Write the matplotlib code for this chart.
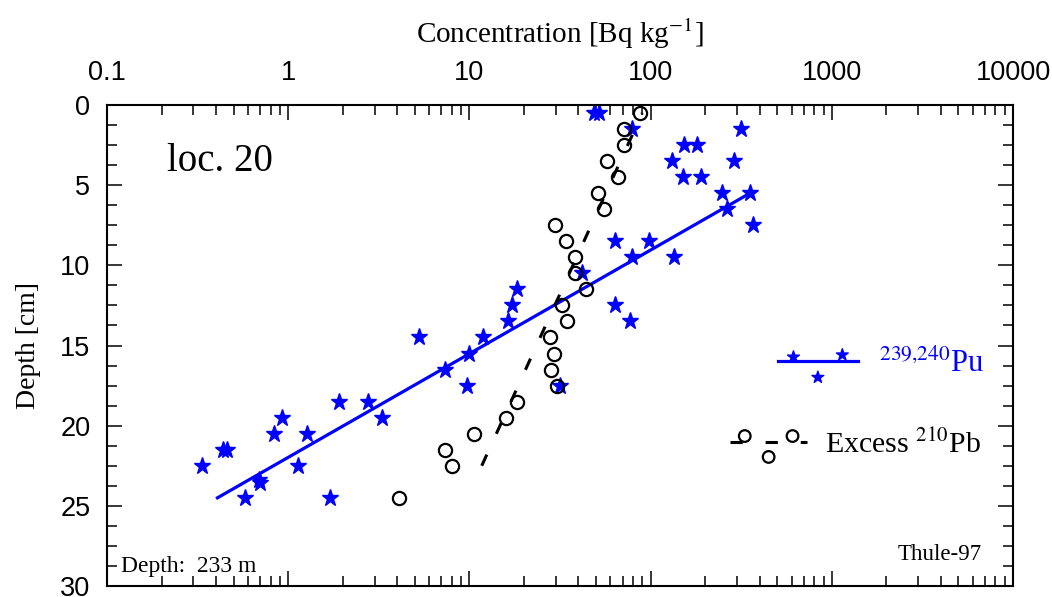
import matplotlib
matplotlib.use("Agg")
import matplotlib.pyplot as plt
from matplotlib.collections import PathCollection
from matplotlib.legend_handler import HandlerPathCollection
from matplotlib.ticker import FuncFormatter, LogLocator, MultipleLocator, NullFormatter

plt.rcParams["font.family"] = ["Liberation Serif", "DejaVu Serif"]
plt.rcParams["mathtext.fontset"] = "stix"

# 239,240Pu profile (depth in cm, concentration in Bq/kg)
pu_depth = [0.5, 0.5, 1.5, 1.5, 2.5, 2.5, 3.5, 3.5, 4.5, 4.5, 5.5, 5.5, 6.5, 7.5,
            8.5, 8.5, 9.5, 9.5, 10.5, 11.5, 12.5, 12.5, 13.5, 13.5, 14.5, 14.5,
            15.5, 16.5, 17.5, 17.5, 18.5, 18.5, 19.5, 19.5, 20.5, 20.5, 21.5, 21.5,
            22.5, 22.5, 23.4, 23.55, 24.5, 24.5]
pu_conc = [49, 52, 79, 316, 152, 180, 131, 290, 151, 189, 248, 354, 263, 369,
           64, 98, 79, 135, 41.7, 18.2, 17.1, 63.4, 16.4, 76.9, 5.27, 11.9,
           10.0, 7.33, 9.67, 31.6, 1.91, 2.77, 0.93, 3.28, 0.83, 1.27, 0.435, 0.457,
           0.336, 1.13, 0.69, 0.70, 0.58, 1.70]

# excess 210Pb profile
pb_depth = [0.5, 1.5, 2.5, 3.5, 4.5, 5.5, 6.5, 7.5, 8.5, 9.5, 10.5, 11.5, 12.5,
            13.5, 14.5, 15.5, 16.5, 17.5, 18.5, 19.5, 20.5, 21.5, 22.5, 24.5]
pb_conc = [87, 71.6, 71, 57.2, 66.4, 51.1, 55.6, 29.7, 34.0, 38.5, 38.5, 44, 32.6,
           34.4, 27.9, 29.3, 28.2, 30.3, 18.2, 15.9, 10.6, 7.33, 8.05, 4.09]

# fitted exponential profiles (end points)
pu_fit_conc = [0.40, 360]
pu_fit_depth = [24.55, 5.45]
pb_fit_conc = [11.7, 90]
pb_fit_depth = [22.5, 0.5]

x_ticks = [0.1, 1, 10, 100, 1000, 10000]
y_ticks = [0, 5, 10, 15, 20, 25, 30]

BLUE = "#0000ff"

fig = plt.figure(figsize=(10.52, 5.97), dpi=100)
ax = fig.add_axes([107 / 1052, 1 - 586 / 597, 906 / 1052, 481 / 597])

ax.plot(pu_fit_conc, pu_fit_depth, color=BLUE, lw=2.3, solid_capstyle="butt")
ax.plot(pb_fit_conc, pb_fit_depth, color="black", lw=2.2, dashes=(4, 7.5))
ax.plot(pu_conc, pu_depth, ls="none", marker="*", ms=12.5, color=BLUE, mec=BLUE)
ax.plot(pb_conc, pb_depth, ls="none", marker="o", ms=9.5, mfc="none", mec="black", mew=1.6)

ax.set_xscale("log")
ax.set_xlim(0.1, 10000)
ax.set_ylim(30, 0)
ax.set_xticks(x_ticks)
ax.xaxis.set_minor_locator(LogLocator(base=10, subs=range(2, 10), numticks=20))
ax.xaxis.set_minor_formatter(NullFormatter())
ax.xaxis.set_major_formatter(FuncFormatter(lambda v, _: f"{v:g}"))
ax.set_yticks(y_ticks)
ax.yaxis.set_minor_locator(MultipleLocator(1.25))

ax.tick_params(which="both", direction="in", top=True, bottom=True, left=True, right=True,
               labeltop=True, labelbottom=False, width=1.1, labelsize=19.5,
               labelfontfamily="Liberation Sans")
ax.tick_params(which="major", length=11)
ax.tick_params(which="minor", length=7)
ax.tick_params(axis="x", which="major", pad=14)
ax.tick_params(axis="y", which="major", pad=12)
for spine in ax.spines.values():
    spine.set_linewidth(1.5)

ax.xaxis.set_label_position("top")
ax.set_xlabel("Concentration [Bq kg$^{\\mathsf{-}1}$]", fontsize=21, labelpad=12)
ax.set_ylabel("Depth [cm]", fontsize=20, labelpad=14)

ax.text(0.066, 0.863, "loc. 20", transform=ax.transAxes, fontsize=28)
ax.text(0.016, 0.03, "Depth:  233 m", transform=ax.transAxes, fontsize=17)
ax.text(0.966, 0.055, "Thule-97", transform=ax.transAxes, fontsize=16.5, ha="right")

# legend proxies
pu_line = plt.Line2D([], [], color=BLUE, lw=2.3)
pu_pts = ax.scatter([], [], marker="*", s=80, color=BLUE)
pb_line = plt.Line2D([], [], color="black", lw=2.2, dashes=(4, 7.5))
pb_pts = ax.scatter([], [], marker="o", s=70, facecolors="none", edgecolors="black", linewidths=1.6)
pts_handler = {PathCollection: HandlerPathCollection(marker_pad=0.5)}

leg_pu = ax.legend([(pu_line, pu_pts)], ["$^{239{,}240}$Pu"], loc="center right",
                   bbox_to_anchor=(0.968, 0.462), frameon=False, fontsize=22,
                   handlelength=2.6, handletextpad=0.7, borderpad=0, borderaxespad=0,
                   scatterpoints=3, scatteryoffsets=[0.7, -0.25, 0.8], handler_map=pts_handler)
leg_pu.get_texts()[0].set_color(BLUE)
ax.add_artist(leg_pu)

ax.legend([(pb_line, pb_pts)], ["Excess $^{210}$Pb"], loc="center right",
          bbox_to_anchor=(0.965, 0.295), frameon=False, fontsize=21.5,
          handlelength=2.6, handletextpad=0.6, borderpad=0, borderaxespad=0,
          scatterpoints=3, scatteryoffsets=[0.8, -0.2, 0.8], handler_map=pts_handler)

fig.savefig("out.png", dpi=100)
